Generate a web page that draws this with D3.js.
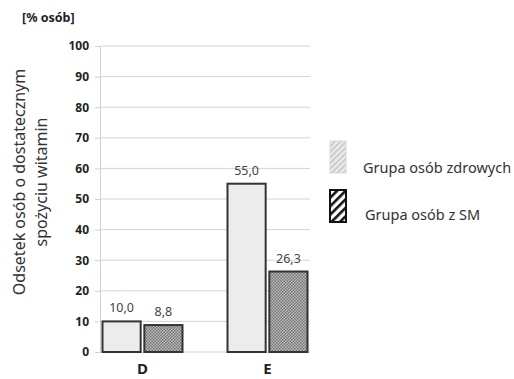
<!DOCTYPE html>
<html><head><meta charset="utf-8">
<script src="https://cdn.jsdelivr.net/npm/d3@7"></script>
<style>body{margin:0;background:#fff}svg{display:block}</style>
</head><body>
<script>
const categories = ["D", "E"];
const seriesNames = ["Grupa osób zdrowych", "Grupa osób z SM"];
const healthy = [10.0, 55.0];
const ms = [8.8, 26.3];
const yTicks = [0, 10, 20, 30, 40, 50, 60, 70, 80, 90, 100];

const FONT = "'Noto Sans', 'Open Sans', 'DejaVu Sans', sans-serif";
const W = 514, H = 379;
const svg = d3.select("body").append("svg").attr("width", W).attr("height", H);
const defs = svg.append("defs");

// fine dotted texture for the SM bars
const dots = defs.append("pattern").attr("id", "dots").attr("patternUnits", "userSpaceOnUse")
  .attr("width", 3).attr("height", 3);
dots.append("rect").attr("width", 3).attr("height", 3).attr("fill", "#bcbcbc");
dots.append("rect").attr("width", 1.5).attr("height", 1.5).attr("fill", "#747474");
dots.append("rect").attr("x", 1.5).attr("y", 1.5).attr("width", 1.5).attr("height", 1.5).attr("fill", "#747474");

// legend hatches
const hatchLight = defs.append("pattern").attr("id", "hatchLight").attr("patternUnits", "userSpaceOnUse")
  .attr("width", 4).attr("height", 4).attr("patternTransform", "rotate(-45)");
hatchLight.append("rect").attr("width", 4).attr("height", 4).attr("fill", "#ececec");
hatchLight.append("rect").attr("width", 4).attr("height", 1.6).attr("fill", "#c4c4c4");
const hatchDark = defs.append("pattern").attr("id", "hatchDark").attr("patternUnits", "userSpaceOnUse")
  .attr("width", 6).attr("height", 6).attr("patternTransform", "rotate(-45)");
hatchDark.append("rect").attr("width", 6).attr("height", 6).attr("fill", "#fff");
hatchDark.append("rect").attr("width", 6).attr("height", 2.6).attr("fill", "#111");

const plotLeft = 100, plotRight = 310, plotTop = 46, plotBottom = 352;
const x = d3.scaleBand().domain(categories).range([plotLeft, plotRight]).paddingInner(0.344).paddingOuter(0.012);
const xs = d3.scaleBand().domain(seriesNames).range([0, x.bandwidth()]).paddingInner(0.04);
const y = d3.scaleLinear().domain([0, 100]).range([plotBottom, plotTop]);

// gridlines
svg.append("g").selectAll("line").data(yTicks.filter(d => d > 0)).join("line")
  .attr("x1", plotLeft).attr("x2", plotRight).attr("y1", d => y(d)).attr("y2", d => y(d))
  .attr("stroke", "#d4d4d4").attr("stroke-width", 1);

// y axis
const yAxis = svg.append("g").attr("transform", `translate(${plotLeft},0)`)
  .call(d3.axisLeft(y).tickValues(yTicks).tickSize(5).tickPadding(6).tickFormat(d3.format("d")));
yAxis.select(".domain").attr("stroke", "#cfcfcf");
yAxis.selectAll(".tick line").attr("stroke", "#cfcfcf");
yAxis.selectAll("text").attr("font-family", FONT)
  .attr("font-size", 12).attr("font-weight", "bold").attr("fill", "#222");

// baseline
svg.append("line").attr("x1", plotLeft).attr("x2", plotRight).attr("y1", y(0)).attr("y2", y(0))
  .attr("stroke", "#cfcfcf");

const rows = categories.map((c, i) => [
  { cat: c, s: seriesNames[0], v: healthy[i] },
  { cat: c, s: seriesNames[1], v: ms[i] }
]).flat();
const fills = { [seriesNames[0]]: "#ececec", [seriesNames[1]]: "url(#dots)" };

svg.append("g").selectAll("rect").data(rows).join("rect")
  .attr("x", d => x(d.cat) + xs(d.s) + 1)
  .attr("width", xs.bandwidth() - 2)
  .attr("y", d => y(d.v))
  .attr("height", d => y(0) - y(d.v))
  .attr("fill", d => fills[d.s])
  .attr("stroke", "#333").attr("stroke-width", 2);

// value labels
svg.append("g").selectAll("text").data(rows).join("text")
  .attr("x", d => x(d.cat) + xs(d.s) + xs.bandwidth() / 2)
  .attr("y", d => y(d.v) - 9)
  .attr("text-anchor", "middle")
  .attr("font-family", FONT)
  .attr("font-size", 12.5).attr("fill", "#444")
  .text(d => d3.format(".1f")(d.v).replace(".", ","));

// category labels
svg.append("g").selectAll("text").data(categories).join("text")
  .attr("x", d => x(d) + x.bandwidth() / 2)
  .attr("y", 374)
  .attr("text-anchor", "middle")
  .attr("font-family", FONT)
  .attr("font-size", 15).attr("font-weight", "bold").attr("fill", "#222")
  .text(d => d);

// unit label
svg.append("text").attr("x", 22).attr("y", 22)
  .attr("font-family", FONT)
  .attr("font-size", 12.5).attr("font-weight", "bold").attr("fill", "#222")
  .text("[% osób]");

// y axis title
const yt = svg.append("text").attr("transform", "translate(0,182) rotate(-90)")
  .attr("text-anchor", "middle")
  .attr("font-family", FONT)
  .attr("font-size", 16).attr("fill", "#333");
yt.append("tspan").attr("x", 0).attr("y", 25).text("Odsetek osób o dostatecznym");
yt.append("tspan").attr("x", 0).attr("y", 47).text("spożyciu witamin");

// legend
const legend = [
  { name: seriesNames[0], fill: "url(#hatchLight)", stroke: "#dadada", sw: 1, y: 141, ty: 173, tx: 363 },
  { name: seriesNames[1], fill: "url(#hatchDark)", stroke: "#111", sw: 2, y: 190, ty: 220, tx: 365 }
];
const lg = svg.append("g").selectAll("g").data(legend).join("g");
lg.append("rect").attr("x", 330).attr("y", d => d.y).attr("width", 16).attr("height", 32)
  .attr("fill", d => d.fill).attr("stroke", d => d.stroke).attr("stroke-width", d => d.sw);
lg.append("text").attr("x", d => d.tx).attr("y", d => d.ty)
  .attr("font-family", FONT)
  .attr("font-size", 14.5).attr("fill", "#333")
  .text(d => d.name);
</script>
</body></html>
